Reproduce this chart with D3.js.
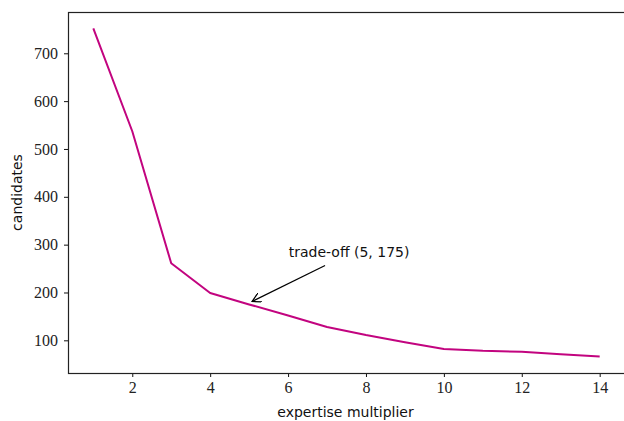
<!DOCTYPE html>
<html>
<head>
<meta charset="utf-8">
<script src="https://cdn.jsdelivr.net/npm/d3@7"></script>
<style>
  body { margin: 0; background: #fff; }
  .lbl { font-family: "DejaVu Sans", "Open Sans", sans-serif; font-size: 14px; fill: #111; }
</style>
</head>
<body>
<div id="chart"></div>
<script>
// expertise multiplier vs number of candidates
var multiplier = [1, 2, 3, 4, 5, 6, 7, 8, 9, 10, 11, 12, 13, 14];
var candidates = [752, 537, 261, 199, 175, 152, 128, 111, 96, 82, 78, 76, 71, 66];
var xTicks = [2, 4, 6, 8, 10, 12, 14];
var yTicks = [100, 200, 300, 400, 500, 600, 700];
var note = {x: 5, y: 175, label: "trade-off (5, 175)"};

var width = 624, height = 421;
var pLeft = 68, pRight = 625, pTop = 12, pBottom = 373;

var svg = d3.select("div#chart")
    .append("svg")
    .attr("width", width)
    .attr("height", height);

// matplotlib style 5% margins
var xs = d3.scaleLinear().domain([0.35, 14.65]).range([pLeft, pRight]);
var yr = d3.max(candidates) - d3.min(candidates);
var ys = d3.scaleLinear()
    .domain([d3.min(candidates) - 0.05*yr, d3.max(candidates) + 0.05*yr])
    .range([pBottom, pTop]);

var xAxis = svg.append("g")
    .attr("transform", "translate(0," + pBottom + ")")
    .call(d3.axisBottom(xs).tickValues(xTicks).tickSize(4).tickPadding(5).tickFormat(d3.format("d")));
var yAxis = svg.append("g")
    .attr("transform", "translate(" + pLeft + ",0)")
    .call(d3.axisLeft(ys).tickValues(yTicks).tickSize(4).tickPadding(6).tickFormat(d3.format("d")));

[xAxis, yAxis].forEach(function(g) {
    g.select(".domain").remove();
    g.attr("font-size", null).attr("font-family", null);
    g.selectAll(".tick line").attr("stroke", "#111").attr("stroke-width", 1);
    g.selectAll(".tick text")
        .attr("font-family", "'Liberation Serif', 'DejaVu Serif', serif")
        .attr("font-size", 16)
        .attr("fill", "#222");
});

// frame
svg.append("rect")
    .attr("x", pLeft + 0.5).attr("y", pTop + 0.5)
    .attr("width", pRight - pLeft).attr("height", pBottom - pTop)
    .attr("fill", "none")
    .attr("stroke", "#222")
    .attr("stroke-width", 1.2);

var line = d3.line()
    .x((d, i) => xs(multiplier[i]))
    .y((d) => ys(d));

svg.append("path")
    .datum(candidates)
    .attr("d", line)
    .attr("fill", "none")
    .attr("stroke", "#c2047f")
    .attr("stroke-width", 2)
    .attr("stroke-linejoin", "round");

// annotation with arrow
svg.append("defs").append("marker")
    .attr("id", "head")
    .attr("viewBox", "0 0 10 10")
    .attr("refX", 9).attr("refY", 5)
    .attr("markerWidth", 10).attr("markerHeight", 10)
    .attr("markerUnits", "userSpaceOnUse")
    .attr("orient", "auto")
    .append("path")
    .attr("d", "M0,0 L9,5 L0,10")
    .attr("fill", "none")
    .attr("stroke", "#000")
    .attr("stroke-width", 1.3);

var tx = xs(note.x + 1) + 61, ty = ys(note.y) - 47;
svg.append("text")
    .attr("class", "lbl")
    .attr("x", tx).attr("y", ty)
    .attr("text-anchor", "middle")
    .text(note.label);

svg.append("line")
    .attr("x1", tx - 24).attr("y1", ty + 8)
    .attr("x2", xs(note.x) + 3).attr("y2", ys(note.y) - 3)
    .attr("stroke", "#000")
    .attr("stroke-width", 1.2)
    .attr("marker-end", "url(#head)");

svg.append("text")
    .attr("class", "lbl")
    .attr("x", (pLeft + pRight) / 2 - 1).attr("y", 417)
    .attr("text-anchor", "middle")
    .text("expertise multiplier");

svg.append("text")
    .attr("class", "lbl")
    .attr("transform", "translate(22," + (pTop + pBottom) / 2 + ") rotate(-90)")
    .attr("text-anchor", "middle")
    .text("candidates");
</script>
</body>
</html>
